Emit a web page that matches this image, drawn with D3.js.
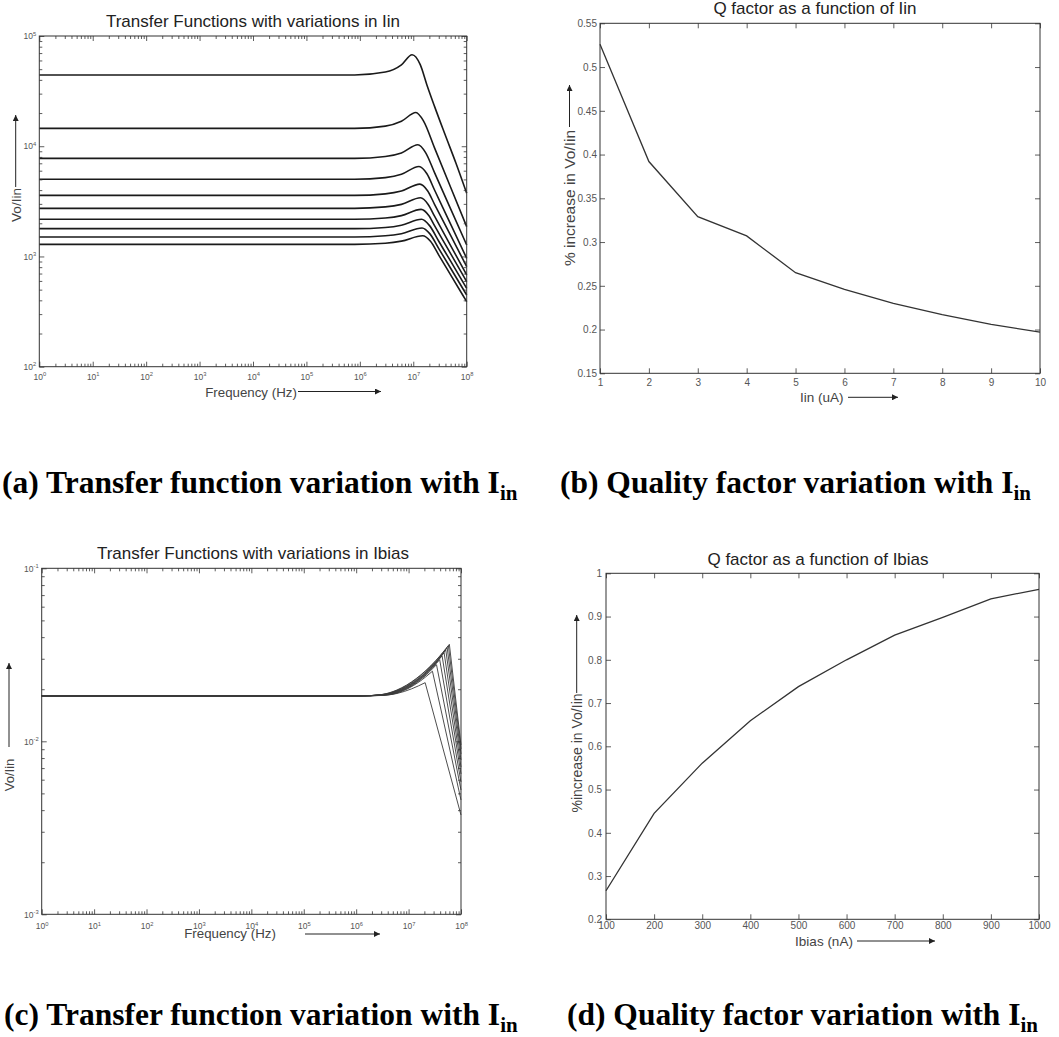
<!DOCTYPE html>
<html>
<head>
<meta charset="utf-8">
<script src="https://cdn.jsdelivr.net/npm/d3@7"></script>
<style>
  body { margin: 0; background: #fff; }
  svg text { font-family: "Liberation Sans", Arial, sans-serif; }
  .cap { font-family: "Liberation Serif", "Times New Roman", serif; font-weight: bold; fill: #000; }
</style>
</head>
<body>
<svg id="fig" width="1059" height="1037"></svg>
<script>
// ---------- data ----------
// (b) Q factor vs Iin
const iinValues = [1, 2, 3, 4, 5, 6, 7, 8, 9, 10];
const qIin = [0.526, 0.392, 0.329, 0.307, 0.265, 0.246, 0.230, 0.217, 0.206, 0.197];
const qIinTicks = [0.15, 0.2, 0.25, 0.3, 0.35, 0.4, 0.45, 0.5, 0.55];

// (d) Q factor vs Ibias
const ibiasValues = [100, 200, 300, 400, 500, 600, 700, 800, 900, 1000];
const qIbias = [0.266, 0.445, 0.561, 0.659, 0.738, 0.800, 0.857, 0.898, 0.941, 0.963];
const qIbiasTicks = [0.2, 0.3, 0.4, 0.5, 0.6, 0.7, 0.8, 0.9, 1];

// (a) transfer functions, one [freq Hz, Vo/Iin] list per Iin value (1..10 uA)
const tfIin = [
  [[1,44300],[8e5,44300],[3e6,47100],[6e6,54800],[9.5e6,67600],[1.35e7,55000],[1.8e7,36000],[2.5e7,23000],[4e7,12500],[6.3e7,7000],[1e8,3740]],
  [[1,14530],[8e5,14530],[3e6,15210],[6e6,16850],[1.12e7,20230],[1.55e7,17000],[2.5e7,9670],[5e7,4250],[1e8,1864]],
  [[1,7760],[8e5,7760],[3e6,8070],[6e6,8690],[1.22e7,10310],[1.7e7,8760],[2.5e7,5760],[5e7,2700],[1e8,1270]],
  [[1,5010],[8e5,5010],[3e6,5195],[6e6,5560],[1.28e7,6550],[1.8e7,5630],[2.5e7,4010],[5e7,1966],[1e8,961]],
  [[1,3585],[8e5,3585],[3e6,3700],[6e6,3920],[1.33e7,4535],[1.85e7,3945],[2.5e7,2973],[5e7,1551],[1e8,809]],
  [[1,2733],[8e5,2733],[3e6,2815],[6e6,2968],[1.37e7,3405],[1.9e7,2962],[2.5e7,2321],[5e7,1256],[1e8,679]],
  [[1,2173],[8e5,2173],[3e6,2234],[6e6,2347],[1.4e7,2673],[1.95e7,2352],[2.5e7,1906],[5e7,1060],[1e8,590]],
  [[1,1787],[8e5,1787],[3e6,1833],[6e6,1923],[1.43e7,2175],[2e7,1914],[3e7,1374],[5e7,906],[1e8,514]],
  [[1,1502],[8e5,1502],[3e6,1540],[6e6,1610],[1.46e7,1811],[2.05e7,1603],[3e7,1180],[5e7,782],[1e8,447]],
  [[1,1288],[8e5,1288],[3e6,1319],[6e6,1377],[1.5e7,1542],[2.1e7,1372],[3e7,1029],[5e7,681],[1e8,389]]
];

// (c) transfer functions, one list per Ibias value (100..1000 nA)
const tfIbias = [
  [[1,0.0183],[1.2e6,0.0183],[3e6,0.0184],[6e6,0.0189],[1.14e7,0.0201],[2.07e7,0.02182],[1e8,0.00375]],
  [[1,0.0183],[1.2e6,0.0183],[3e6,0.01842],[6e6,0.0190],[1.57e7,0.0220],[2.85e7,0.02542],[1e8,0.00458]],
  [[1,0.0183],[1.2e6,0.0183],[3e6,0.01845],[6e6,0.0191],[1.88e7,0.0233],[3.41e7,0.02773],[1e8,0.00523]],
  [[1,0.0183],[1.2e6,0.0183],[3e6,0.01848],[6e6,0.0192],[2.16e7,0.0244],[3.92e7,0.02962],[1e8,0.00582]],
  [[1,0.0183],[1.2e6,0.0183],[3e6,0.0185],[6e6,0.0193],[2.4e7,0.0254],[4.36e7,0.03119],[1e8,0.00647]],
  [[1,0.0183],[1.2e6,0.0183],[3e6,0.01853],[6e6,0.0194],[2.62e7,0.0263],[4.76e7,0.03251],[1e8,0.00710]],
  [[1,0.0183],[1.2e6,0.0183],[3e6,0.01856],[6e6,0.0195],[2.82e7,0.0271],[5.13e7,0.03366],[1e8,0.00780]],
  [[1,0.0183],[1.2e6,0.0183],[3e6,0.01858],[6e6,0.0196],[3e7,0.0278],[5.45e7,0.03471],[1e8,0.00844]],
  [[1,0.0183],[1.2e6,0.0183],[3e6,0.0186],[6e6,0.0197],[3.16e7,0.0287],[5.75e7,0.03564],[1e8,0.00903]],
  [[1,0.0183],[1.2e6,0.0183],[3e6,0.01862],[6e6,0.0198],[3.3e7,0.0293],[6e7,0.03636],[1e8,0.00952]]
];

const freqDomain = [1, 1e8];

// ---------- helpers ----------
const svg = d3.select("#fig");

svg.append("defs").append("marker")
    .attr("id", "arr")
    .attr("viewBox", "0 0 10 10")
    .attr("refX", 10).attr("refY", 5)
    .attr("markerWidth", 8).attr("markerHeight", 6)
    .attr("markerUnits", "userSpaceOnUse")
    .attr("orient", "auto")
    .append("path").attr("d", "M0,0L10,5L0,10z").attr("fill", "#222");

function isPow10(v) {
    let e = Math.log10(v);
    return Math.abs(e - Math.round(e)) < 1e-9;
}

// "10" with a raised exponent, like matlab log axes
function supLabel() {
    let t = d3.select(this);
    let e = Math.round(Math.log10(t.datum()));
    t.text(null);
    t.append("tspan").text("10");
    t.append("tspan").attr("dy", "-0.6em").attr("font-size", "0.68em").text(e);
}

function styleAxis(sel, fs) {
    sel.attr("font-family", null).attr("font-size", fs);
    sel.select(".domain").remove();
    sel.selectAll(".tick line").attr("stroke", "#333").attr("stroke-width", 0.8);
    sel.selectAll(".tick text").attr("fill", "#555");
}

// boxed axes with inward ticks on all four sides
function boxAxes(g, x, y, w, h, o) {
    let major = 5, minor = 3;
    let sides = [
        { a: d3.axisBottom(x), tr: `translate(0,${h})`, vals: o.xMajor, minors: o.xMinor, lab: true, pad: o.xPad, fmt: o.xFmt, log: o.xLog },
        { a: d3.axisTop(x), tr: null, vals: o.xMajor, minors: o.xMinor },
        { a: d3.axisLeft(y), tr: null, vals: o.yMajor, minors: o.yMinor, lab: true, pad: o.yPad, fmt: o.yFmt, log: o.yLog },
        { a: d3.axisRight(y), tr: `translate(${w},0)`, vals: o.yMajor, minors: o.yMinor }
    ];
    sides.forEach(s => {
        if (s.minors) {
            g.append("g").attr("transform", s.tr)
                .call(s.a.tickValues(s.minors).tickSizeInner(-minor).tickSizeOuter(0).tickFormat(""))
                .call(styleAxis, o.fs);
        }
        let ax = g.append("g").attr("transform", s.tr)
            .call(s.a.tickValues(s.vals).tickSizeInner(-major).tickSizeOuter(0)
                .tickPadding(s.lab ? s.pad : 0)
                .tickFormat(s.lab ? s.fmt : ""))
            .call(styleAxis, o.fs);
        if (s.lab && s.log) ax.selectAll(".tick text").each(supLabel);
    });
    g.append("rect")
        .attr("width", w).attr("height", h)
        .attr("fill", "none").attr("stroke", "#333").attr("stroke-width", 1);
}

function title(x, y, txt) {
    svg.append("text").attr("x", x).attr("y", y)
        .attr("text-anchor", "middle").attr("font-size", 17).attr("fill", "#222")
        .text(txt);
}

function arrow(x1, y1, x2, y2) {
    svg.append("line")
        .attr("x1", x1).attr("y1", y1).attr("x2", x2).attr("y2", y2)
        .attr("stroke", "#222").attr("stroke-width", 1)
        .attr("marker-end", "url(#arr)");
}

function xLabel(x, y, txt, fs) {
    svg.append("text").attr("x", x).attr("y", y)
        .attr("text-anchor", "middle").attr("font-size", fs).attr("fill", "#444")
        .text(txt);
}

function yLabel(x, y, txt, fs) {
    svg.append("text")
        .attr("transform", `translate(${x},${y}) rotate(-90)`)
        .attr("text-anchor", "middle").attr("font-size", fs).attr("fill", "#444")
        .text(txt);
}

function caption(x, y, letter, txt) {
    let t = svg.append("text").attr("class", "cap")
        .attr("x", x).attr("y", y).attr("font-size", 31.5);
    t.append("tspan").text(`(${letter}) ${txt} I`);
    t.append("tspan").attr("dy", 7).attr("font-size", 21).text("in");
}

// ---------- (a) transfer function vs Iin ----------
const pa = { left: 39.3, top: 36, w: 427.4, h: 330.7 };
const xA = d3.scaleLog().domain(freqDomain).range([0, pa.w]);
const yA = d3.scaleLog().domain([1e2, 1e5]).range([pa.h, 0]);
const gA = svg.append("g").attr("transform", `translate(${pa.left},${pa.top})`);

gA.selectAll("path.tf")
    .data(tfIin)
    .join("path")
    .attr("class", "tf")
    .attr("fill", "none")
    .attr("stroke", "#1a1a1a")
    .attr("stroke-width", 1.6)
    .attr("d", d3.line().x(d => xA(d[0])).y(d => yA(d[1])).curve(d3.curveMonotoneX));

boxAxes(gA, xA, yA, pa.w, pa.h, {
    xMajor: xA.ticks().filter(isPow10), xMinor: xA.ticks().filter(v => !isPow10(v)),
    yMajor: yA.ticks().filter(isPow10), yMinor: yA.ticks().filter(v => !isPow10(v)),
    xLog: true, yLog: true, xPad: 7, yPad: 3, fs: 8.5
});
title(253, 27, "Transfer Functions with variations in Iin");
xLabel(251, 396.5, "Frequency (Hz)", 13.3);
arrow(298, 391.5, 381, 391.5);
yLabel(20.5, 205, "Vo/Iin", 13.5);
arrow(15.7, 187, 15.7, 115);

// ---------- (b) Q factor vs Iin ----------
const pb = { left: 600, top: 23.3, w: 440, h: 350 };
const xB = d3.scaleLinear().domain([1, 10]).range([0, pb.w]);
const yB = d3.scaleLinear().domain([0.15, 0.55]).range([pb.h, 0]);
const gB = svg.append("g").attr("transform", `translate(${pb.left},${pb.top})`);

gB.append("path")
    .datum(d3.zip(iinValues, qIin))
    .attr("fill", "none").attr("stroke", "#333").attr("stroke-width", 1.3)
    .attr("d", d3.line().x(d => xB(d[0])).y(d => yB(d[1])));

boxAxes(gB, xB, yB, pb.w, pb.h, {
    xMajor: iinValues, yMajor: qIinTicks,
    xFmt: d3.format("d"), yFmt: d => String(+d.toFixed(2)),
    xPad: 6, yPad: 3, fs: 10
});
title(815, 14, "Q factor as a function of Iin");
xLabel(821.7, 402, "Iin (uA)", 13.5);
arrow(848, 397.3, 898, 397.3);
yLabel(574.5, 198, "% increase in Vo/Iin", 15.5);
arrow(569.5, 127, 569.5, 85);

// ---------- (c) transfer function vs Ibias ----------
const pc = { left: 41.7, top: 568.3, w: 419.3, h: 346 };
const xC = d3.scaleLog().domain(freqDomain).range([0, pc.w]);
const yC = d3.scaleLog().domain([1e-3, 1e-1]).range([pc.h, 0]);
const gC = svg.append("g").attr("transform", `translate(${pc.left},${pc.top})`);

const riseLine = d3.line().x(d => xC(d[0])).y(d => yC(d[1])).curve(d3.curveMonotoneX);
const dropLine = d3.line().x(d => xC(d[0])).y(d => yC(d[1]));
tfIbias.forEach(pts => {
    let pk = d3.maxIndex(pts, d => d[1]);
    gC.append("path").attr("d", riseLine(pts.slice(0, pk + 1)) + dropLine(pts.slice(pk)).replace(/^M[^L]*/, ""))
        .attr("fill", "none").attr("stroke", "#3a3a3a").attr("stroke-width", 0.9);
});

boxAxes(gC, xC, yC, pc.w, pc.h, {
    xMajor: xC.ticks().filter(isPow10), xMinor: xC.ticks().filter(v => !isPow10(v)),
    yMajor: yC.ticks().filter(isPow10), yMinor: yC.ticks().filter(v => !isPow10(v)),
    xLog: true, yLog: true, xPad: 9, yPad: 3, fs: 8.5
});
title(253, 559, "Transfer Functions with variations in Ibias");
xLabel(230, 938, "Frequency (Hz)", 13.3);
arrow(305, 934, 380, 934);
yLabel(13.5, 775, "Vo/Iin", 13);
arrow(9, 747, 9, 663);

// ---------- (d) Q factor vs Ibias ----------
const pd = { left: 606, top: 573.3, w: 433, h: 346 };
const xD = d3.scaleLinear().domain([100, 1000]).range([0, pd.w]);
const yD = d3.scaleLinear().domain([0.2, 1]).range([pd.h, 0]);
const gD = svg.append("g").attr("transform", `translate(${pd.left},${pd.top})`);

gD.append("path")
    .datum(d3.zip(ibiasValues, qIbias))
    .attr("fill", "none").attr("stroke", "#333").attr("stroke-width", 1.3)
    .attr("d", d3.line().x(d => xD(d[0])).y(d => yD(d[1])));

boxAxes(gD, xD, yD, pd.w, pd.h, {
    xMajor: ibiasValues, yMajor: qIbiasTicks,
    xFmt: d3.format("d"), yFmt: d => String(+d.toFixed(1)),
    xPad: 3, yPad: 4, fs: 10
});
title(818, 565, "Q factor as a function of Ibias");
xLabel(824, 946, "Ibias (nA)", 13.5);
arrow(857, 941, 935, 941);
yLabel(581.5, 753, "%increase in Vo/Iin", 14);
arrow(576.7, 693, 576.7, 615);

// ---------- captions ----------
caption(2, 493, "a", "Transfer function variation with");
caption(560, 493, "b", "Quality factor variation with");
caption(4, 1025, "c", "Transfer function variation with");
caption(567, 1025, "d", "Quality factor variation with");
</script>
</body>
</html>
